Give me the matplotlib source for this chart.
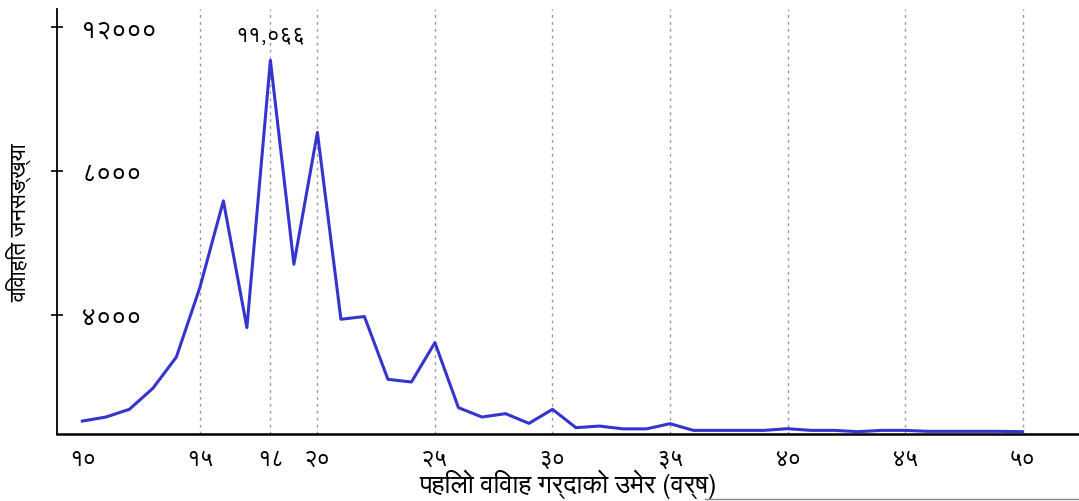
import matplotlib
matplotlib.use('Agg')
import matplotlib.pyplot as plt

plt.rcParams['font.family'] = ['FreeSans', 'DejaVu Sans']

ages = list(range(10, 51))
married = [1055, 1167, 1381, 1964, 2833, 4761, 7167, 3650, 11066, 5408,
           9067, 3881, 3956, 2214, 2139, 3233, 1428, 1167, 1261, 992,
           1381, 872, 917, 839, 839, 983, 797, 797, 797, 797,
           844, 797, 797, 761, 797, 797, 770, 770, 770, 770, 761]

grid_ages = [15, 18, 20, 25, 30, 35, 40, 45, 50]
xtick_ages = [10] + grid_ages
xtick_labels = ['१०', '१५', '१८', '२०', '२५', '३०', '३५', '४०', '४५', '५०']
ytick_vals = [4000, 8000, 12000]
ytick_labels = ['४०००', '८०००', '१२०००']
peak_label = '११,०६६'

fig = plt.figure(figsize=(10.79, 5.02), dpi=100)
ax = fig.add_axes([0.053, 0.133, 0.947, 0.847])

for a in grid_ages:
    ax.axvline(a, color='#999999', linestyle=(0, (2, 3)), linewidth=1.0, zorder=1)

ax.plot(ages, married, color='#3434cf', linewidth=2.2, zorder=3)

peak_i = married.index(max(married))
ax.annotate(peak_label, (ages[peak_i], married[peak_i]), xytext=(0, 10),
            textcoords='offset points', ha='center', va='bottom', fontsize=16)

ax.set_xlim(8.93, 52.4)
ax.set_ylim(690, 12490)

ax.set_xticks(xtick_ages)
ax.set_xticklabels(xtick_labels, fontsize=17)
ax.tick_params(axis='x', length=0, pad=9)
for lab, a in zip(ax.get_xticklabels(), xtick_ages):
    if a == 10:
        lab.set_x(10.8)

ax.set_yticks(ytick_vals)
ax.set_yticklabels(ytick_labels, fontsize=19, ha='left')
ax.tick_params(axis='y', direction='inout', length=9, width=1.2, pad=-22)

for s in ['top', 'right']:
    ax.spines[s].set_visible(False)
ax.spines['left'].set_linewidth(1.3)
ax.spines['bottom'].set_linewidth(1.8)

ax.set_xlabel('पहिलो विवाह गर्दाको उमेर (वर्ष)', fontsize=19, labelpad=-1)
ax.set_ylabel('विवाहित जनसङ्ख्या', fontsize=16, labelpad=14)

fig.add_artist(plt.Line2D([0.653, 1.0], [0.004, 0.004], color='#888888', linewidth=1.0))

fig.savefig('out.png', dpi=100)
